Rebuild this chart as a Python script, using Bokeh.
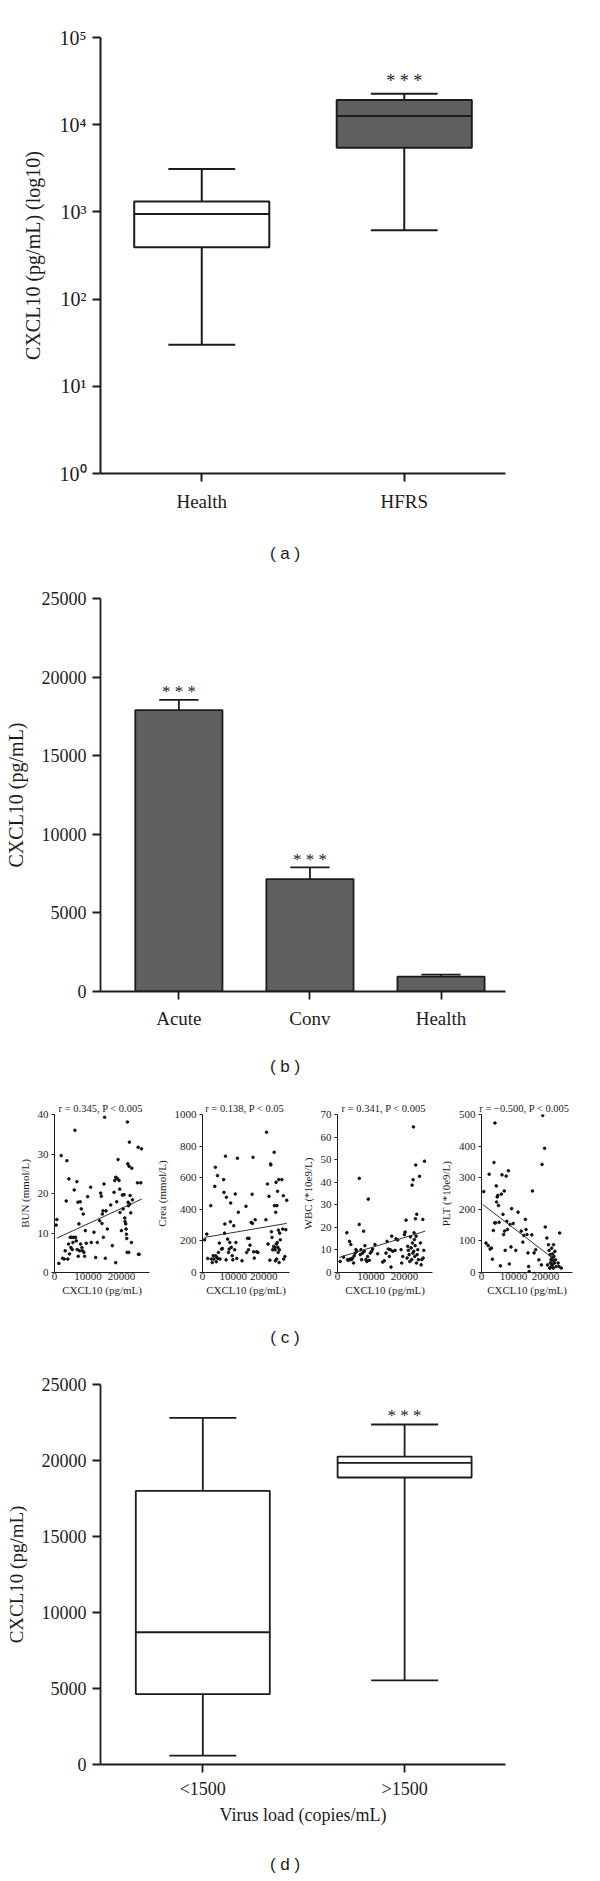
from bokeh.plotting import figure
from bokeh.layouts import column, row
from bokeh.models import Range1d, FixedTicker, CustomJSTickFormatter, NumeralTickFormatter
from bokeh.core.properties import value
from bokeh.embed import file_html
from bokeh.resources import INLINE

# ---------------- data ----------------
# (a) CXCL10 (log10), box plot
a_groups = ["Health", "HFRS"]
a_low = [30, 615]
a_q1 = [394, 5450]
a_med = [948, 12600]
a_q3 = [1313, 19200]
a_high = [3100, 22600]
a_sig = ["", "* * *"]

# (b) bar chart with error bars
b_groups = ["Acute", "Conv", "Health"]
b_mean = [17900, 7150, 945]
b_sem = [650, 750, 125]
b_sig = ["* * *", "* * *", ""]

# (c) correlations
bun_x = [500, 700, 1300, 2000, 2400, 2900, 3200, 3500, 3700, 4000, 4200, 4300, 4500, 4700, 4900, 5100,
         5300, 5500, 5700, 5900, 6100, 6300, 6500, 6700, 6800, 7000, 7100, 7300, 7500, 7700, 7800, 8000,
         8200, 8400, 8600, 8800, 9000, 9200, 9500, 9900, 10800, 11000,
         11800, 12300, 12800, 13500, 13800, 14000, 14200, 14300, 14500, 14600, 14800, 15000, 15200, 15400,
         15800, 16800, 17300, 18000, 18300, 18600,
         17800, 18300, 18800, 19000, 19300, 19500, 19600, 20000, 20300, 20500, 20800, 21000, 21100, 21300,
         21400, 21500, 21600, 21700, 21800, 21900, 22000, 22100, 22200, 22300, 22400, 22500, 22600, 22800,
         23000, 23100, 23300, 24800, 25000, 25100, 25300, 25800, 26000]
bun_y = [12.0, 13.4, 2.3, 29.6, 3.6, 3.4, 5.5, 18.1, 28.3, 3.4, 7.2, 23.7, 4.7, 8.9, 6.3, 8.9,
         5.8, 7.6, 8.9, 20.9, 36.0, 8.9, 8.0, 23.0, 5.8, 17.8, 4.1, 12.3, 5.5, 17.9, 7.2, 16.1,
         6.3, 5.5, 14.8, 5.1, 4.1, 10.6, 7.4, 19.2, 21.6, 7.6,
         10.2, 3.8, 7.6, 13.1, 20.1, 19.3, 12.4, 14.8, 15.6, 8.9, 22.4, 39.3, 3.6, 15.6,
         11.0, 17.1, 6.8, 23.3, 2.5, 17.9,
         20.3, 24.1, 23.8, 28.6, 23.3, 21.1, 15.2, 10.6, 19.6, 16.1, 19.7, 13.8, 12.9, 12.3,
         11.0, 9.7, 8.6, 5.1, 38.1, 27.5, 17.8, 16.9, 5.1, 26.9, 33.0, 17.3, 19.5, 15.1,
         7.6, 26.4, 18.4, 22.7, 31.7, 4.6, 4.6, 22.7, 31.3]
bun_fit_x = [700, 26100]
bun_fit_y = [8.7, 18.6]

crea_x = [700, 1400, 1700, 2700, 2900, 3200, 3500, 3700, 4000, 4200, 4300, 4500, 4700, 4900, 5000, 5200,
          5500, 5700, 6200, 6500, 6900, 7000, 7200, 7300, 7500, 7700, 7800, 8200, 8500, 8700, 8900, 9100,
          9200, 9400, 9700, 9900, 10200, 10500, 10700, 10900, 11200, 11400, 11700, 12900, 14200, 14400,
          14700, 15000, 15200, 15500, 15900, 16200, 16300, 16500, 16700, 16900, 17200, 17700, 18100,
          20700, 20900, 21200, 21400, 21700, 22000, 22200, 22300, 22500, 22700, 22900, 23200, 23400, 23500,
          23600, 23700, 23800, 23900, 24000, 24100, 24200, 24300, 24400, 24500, 24600, 24700, 24800, 24900,
          25000, 25100, 25200, 25400, 25900, 26200, 26400, 26500, 26900, 27200, 27500]
crea_y = [207, 243, 89, 423, 85, 63, 106, 85, 545, 666, 106, 68, 95, 613, 89, 127,
          186, 85, 148, 152, 588, 507, 249, 307, 736, 80, 476, 211, 127, 148, 190, 321,
          440, 159, 106, 80, 296, 144, 497, 190, 89, 723, 381, 74, 419, 127,
          216, 144, 216, 173, 317, 495, 311, 729, 131, 91, 334, 131, 127,
          334, 888, 560, 180, 482, 78, 687, 681, 258, 222, 144, 165, 761, 423,
          159, 144, 74, 381, 571, 180, 85, 423, 190, 514, 159, 127, 268, 588,
          63, 144, 249, 207, 588, 275, 486, 85, 101, 271, 457]
crea_fit_x = [700, 27500]
crea_fit_y = [222, 311]

wbc_x = [800, 1800, 2800, 3000, 3300, 3600, 3800, 4000, 4200, 4500, 4800, 5000, 5300, 5500, 5800, 6500,
         6500, 6800, 7000, 7200, 7500, 7800, 8000, 8200, 8500, 8800, 9000, 9200, 9500, 9800, 10200, 10500,
         11200, 12000, 13500, 14000, 14500, 14800, 15200, 15500, 15800, 16000, 16200, 16500, 17200, 17500,
         18000, 19000, 19200, 19500, 20000, 20200, 20500, 20800, 21000, 21200, 21400, 21600, 21800, 22000,
         22200, 22300, 22400, 22500, 22600, 22700, 22800, 22900, 23000, 23100, 23200, 23300, 23400, 23500,
         23600, 23700, 23800, 24000, 24200, 24500, 24800, 25000, 25200, 25500, 25600, 25800, 26000]
wbc_y = [4.9, 6.8, 17.6, 5.7, 5.4, 13.8, 6.0, 12.4, 5.7, 6.4, 4.2, 7.4, 8.6, 10.1, 9.4, 21.3,
         41.7, 7.9, 10.1, 5.7, 8.6, 18.3, 9.4, 11.9, 5.7, 4.9, 7.1, 32.5, 5.4, 8.6, 9.4, 10.4,
         12.4, 8.3, 4.6, 5.2, 8.6, 13.8, 10.4, 7.1, 10.1, 2.4, 16.1, 9.4, 9.8, 14.9,
         14.4, 10.1, 4.2, 7.1, 16.8, 17.9, 23.2, 6.4, 11.6, 9.8, 7.9, 4.9, 15.8, 10.9,
         5.7, 38.7, 13.1, 8.6, 41.1, 64.5, 9.4, 17.6, 14.6, 7.1, 11.9, 23.8, 47.6, 16.1,
         4.2, 25.8, 7.9, 10.1, 5.7, 42.6, 13.1, 3.4, 5.7, 23.5, 6.4, 9.8, 49.3]
wbc_fit_x = [500, 26200]
wbc_fit_y = [6.7, 18.3]

plt_x = [700, 1400, 2100, 2400, 2700, 3100, 3400, 3700, 3900, 4100, 4200, 4400, 4600, 4700, 4900, 5100,
         5300, 5500, 5900, 6200, 6400, 6700, 6900, 7100, 7200, 7400, 7700, 7900, 8100, 8400, 8700, 8900,
         9200, 9400, 9900, 10700, 11400, 12400, 12900, 13200, 13700, 13900, 14200, 14500, 14700, 14900,
         15700, 15900, 16400, 16900, 17900, 18700, 18900, 19100, 19700, 19900, 20400, 20600, 20900, 21100,
         21300, 21400, 21500, 21700, 21800, 21900, 22000, 22100, 22200, 22300, 22400, 22500, 22600, 22700,
         22900, 23100, 23300, 23900, 24200, 24400, 24900]
plt_y = [256, 93, 85, 311, 74, 77, 42, 133, 348, 157, 473, 157, 274, 223, 239, 244,
         212, 159, 21, 248, 309, 184, 120, 258, 131, 70, 305, 162, 136, 322, 27, 152,
         81, 202, 155, 70, 191, 131, 96, 117, 168, 136, 120, 62, 19, 3,
         119, 258, 62, 72, 40, 24, 342, 497, 393, 144, 109, 24, 88, 70,
         14, 56, 30, 40, 19, 77, 46, 24, 59, 37, 14, 88, 51, 30,
         67, 40, 19, 30, 19, 125, 14]
plt_fit_x = [400, 22700]
plt_fit_y = [215, 42]

c_titles = ["r = 0.345,  P < 0.005", "r = 0.138,  P < 0.05",
            "r = 0.341,  P < 0.005", "r = \u22120.500,  P <  0.005"]
c_ylabels = ["BUN (mmol/L)", "Crea (mmol/L)", "WBC (*10e9/L)", "PLT (*10e9/L)"]
c_xlabel = "CXCL10 (pg/mL)"

# (d) virus load box plot
d_groups = ["<1500", ">1500"]
d_low = [590, 5530]
d_q1 = [4630, 18880]
d_med = [8700, 19850]
d_q3 = [18000, 20260]
d_high = [22800, 22370]
d_sig = ["", "* * *"]

# ---------------- styles ----------------
SERIF = "Liberation Serif"
SANS = "Liberation Sans"
INK = "#1c1c1c"
DARK = "#606060"
W = 598
CAP_W = 562


def base_fig(w, h, xr, yr, bl, br, bt, bb, **kw):
    p = figure(width=w, height=h, x_range=xr, y_range=yr, output_backend="svg",
               toolbar_location=None, min_border_left=bl, min_border_right=br,
               min_border_top=bt, min_border_bottom=bb, **kw)
    p.xgrid.visible = False
    p.ygrid.visible = False
    p.outline_line_color = None
    p.background_fill_color = "white"
    p.border_fill_color = "white"
    return p


def style_axis(ax, lw, tick_out, font_size, label_size, label_standoff, axis_label_standoff):
    ax.axis_line_color = INK
    ax.axis_line_width = lw
    ax.major_tick_line_color = INK
    ax.major_tick_line_width = lw
    ax.major_tick_out = tick_out
    ax.major_tick_in = 0
    ax.minor_tick_line_color = None
    ax.major_label_text_font = SERIF
    ax.major_label_text_font_size = font_size
    ax.major_label_text_color = INK
    ax.major_label_standoff = label_standoff
    ax.axis_label_text_font = SERIF
    ax.axis_label_text_font_size = label_size
    ax.axis_label_text_font_style = "normal"
    ax.axis_label_text_color = INK
    ax.axis_label_standoff = axis_label_standoff


def cat_formatter(labels):
    return CustomJSTickFormatter(args=dict(labels=labels),
                                 code="const i = Math.round(tick); return labels[i] ?? '';")


def boxplot(p, groups, low, q1, med, q3, high, fills, box_w, cap_w, lw):
    x = list(range(len(groups)))
    xl_box = [i - box_w / 2 for i in x]
    xr_box = [i + box_w / 2 for i in x]
    xl_cap = [i - cap_w / 2 for i in x]
    xr_cap = [i + cap_w / 2 for i in x]
    p.segment(x0=x, y0=q3, x1=x, y1=high, line_color=INK, line_width=lw)
    p.segment(x0=x, y0=low, x1=x, y1=q1, line_color=INK, line_width=lw)
    p.segment(x0=xl_cap, y0=high, x1=xr_cap, y1=high, line_color=INK, line_width=lw)
    p.segment(x0=xl_cap, y0=low, x1=xr_cap, y1=low, line_color=INK, line_width=lw)
    p.vbar(x=x, width=box_w, bottom=q1, top=q3, fill_color=fills, line_color=INK, line_width=lw)
    p.segment(x0=xl_box, y0=med, x1=xr_box, y1=med, line_color=INK, line_width=lw)
    return x


def caption(text, h, yoff=0):
    p = figure(width=CAP_W, height=h, x_range=Range1d(0, 1), y_range=Range1d(0, 1),
               output_backend="svg", toolbar_location=None, min_border=0,
               x_axis_location=None, y_axis_location=None)
    p.xgrid.visible = False
    p.ygrid.visible = False
    p.outline_line_color = None
    p.text(x=[0.5], y=[0.5], text=[text], text_align="center", text_baseline="middle",
           text_font=value(SANS), text_font_size="17px", text_color=INK, y_offset=yoff)
    return p


# ---------------- panel (a) ----------------
pa = base_fig(W, 525, Range1d(-0.5, 1.5), Range1d(1, 1e5), 90, 93, 37, 52, y_axis_type="log")
xa = boxplot(pa, a_groups, a_low, a_q1, a_med, a_q3, a_high, ["white", DARK], 0.667, 0.33, 2)
pa.text(x=xa, y=a_high, text=a_sig, text_align="center", text_baseline="alphabetic",
        text_font=value(SERIF), text_font_size="18px", text_color=INK, y_offset=-13)
pa.yaxis.ticker = FixedTicker(ticks=[1, 10, 100, 1000, 10000, 100000])
pa.yaxis.formatter = CustomJSTickFormatter(code="""
const sup = ['\u2070','\u00b9','\u00b2','\u00b3','\u2074','\u2075','\u2076','\u2077','\u2078','\u2079'];
const e = Math.round(Math.log10(tick));
return '10' + sup[e];""")
pa.yaxis.axis_label = "CXCL10 (pg/mL) (log10)"
style_axis(pa.yaxis[0], 2, 8, "20px", "20px", 6, 13)
pa.xaxis.ticker = FixedTicker(ticks=xa)
pa.xaxis.formatter = cat_formatter(a_groups)
style_axis(pa.xaxis[0], 2, 8, "19px", "19px", 9, 10)

# ---------------- panel (b) ----------------
pb = base_fig(W, 455, Range1d(-0.598, 2.492), Range1d(0, 25000), 100, 19, 18, 44)
xb = list(range(len(b_groups)))
b_top = [m + s for m, s in zip(b_mean, b_sem)]
pb.segment(x0=xb, y0=b_mean, x1=xb, y1=b_top, line_color=INK, line_width=1.8)
pb.segment(x0=[i - 0.15 for i in xb], y0=b_top, x1=[i + 0.15 for i in xb], y1=b_top,
           line_color=INK, line_width=1.8)
pb.vbar(x=xb, width=0.665, bottom=0, top=b_mean, fill_color=DARK, line_color=INK, line_width=1.8)
pb.text(x=xb, y=b_top, text=b_sig, text_align="center", text_baseline="alphabetic",
        text_font=value(SERIF), text_font_size="17px", text_color=INK, y_offset=-8)
pb.yaxis.ticker = FixedTicker(ticks=[0, 5000, 10000, 15000, 20000, 25000])
pb.yaxis.formatter = NumeralTickFormatter(format="0")
pb.yaxis.axis_label = "CXCL10 (pg/mL)"
style_axis(pb.yaxis[0], 1.8, 8, "18px", "20px", 6, 12)
pb.xaxis.ticker = FixedTicker(ticks=xb)
pb.xaxis.formatter = cat_formatter(b_groups)
style_axis(pb.xaxis[0], 1.8, 8, "19px", "19px", 8, 10)

# ---------------- panel (c) ----------------
c_specs = [
    (bun_x, bun_y, bun_fit_x, bun_fit_y, 40, 10, 152, 54, 3),
    (crea_x, crea_y, crea_fit_x, crea_fit_y, 1000, 200, 144, 42, 7),
    (wbc_x, wbc_y, wbc_fit_x, wbc_fit_y, 70, 10, 140, 41, 4),
    (plt_x, plt_y, plt_fit_x, plt_fit_y, 500, 100, 154, 41, 18),
]
c_figs = []
for k, (xs, ys, fx, fy, ymax, ystep, w, bl, br) in enumerate(c_specs):
    pc = base_fig(w, 213, Range1d(0, 28400), Range1d(0, ymax), bl, br, 17, 38, title=c_titles[k])
    pc.title.align = "center"
    pc.title.text_font = SERIF
    pc.title.text_font_size = "10.5px"
    pc.title.text_font_style = "normal"
    pc.title.text_color = "#222222"
    pc.title.standoff = 2
    pc.scatter(x=xs, y=ys, size=2.6, marker="circle", color="#111111")
    pc.line(x=fx, y=fy, line_color="#333333", line_width=1)
    pc.xaxis.ticker = FixedTicker(ticks=[0, 10000, 20000])
    pc.yaxis.ticker = FixedTicker(ticks=list(range(0, ymax + 1, ystep)))
    pc.yaxis.axis_label = c_ylabels[k]
    pc.xaxis.axis_label = c_xlabel
    style_axis(pc.yaxis[0], 1, 3, "11px", "11px", 3, 4)
    style_axis(pc.xaxis[0], 1, 0, "11px", "11px", 0, 1)
    c_figs.append(pc)

# ---------------- panel (d) ----------------
pd_ = base_fig(W, 485, Range1d(-0.507, 1.5), Range1d(0, 25000), 100, 93, 20, 85)
xd = boxplot(pd_, d_groups, d_low, d_q1, d_med, d_q3, d_high, ["white", "white"], 0.664, 0.332, 1.8)
pd_.text(x=xd, y=d_high, text=d_sig, text_align="center", text_baseline="alphabetic",
         text_font=value(SERIF), text_font_size="17px", text_color=INK, y_offset=-9)
pd_.yaxis.ticker = FixedTicker(ticks=[0, 5000, 10000, 15000, 20000, 25000])
pd_.yaxis.formatter = NumeralTickFormatter(format="0")
pd_.yaxis.axis_label = "CXCL10 (pg/mL)"
style_axis(pd_.yaxis[0], 1.8, 8, "18px", "19px", 6, 12)
pd_.xaxis.ticker = FixedTicker(ticks=xd)
pd_.xaxis.formatter = cat_formatter(d_groups)
pd_.xaxis.axis_label = "Virus load (copies/mL)"
style_axis(pd_.xaxis[0], 1.8, 8, "18px", "18px", 6, 3)

layout = column(
    pa, caption("( a )", 55),
    pb, caption("( b )", 62),
    row(*c_figs), caption("( c )", 54),
    pd_, caption("( d )", 24, 3),
)

open("out.html", "w").write(file_html(layout, INLINE))
